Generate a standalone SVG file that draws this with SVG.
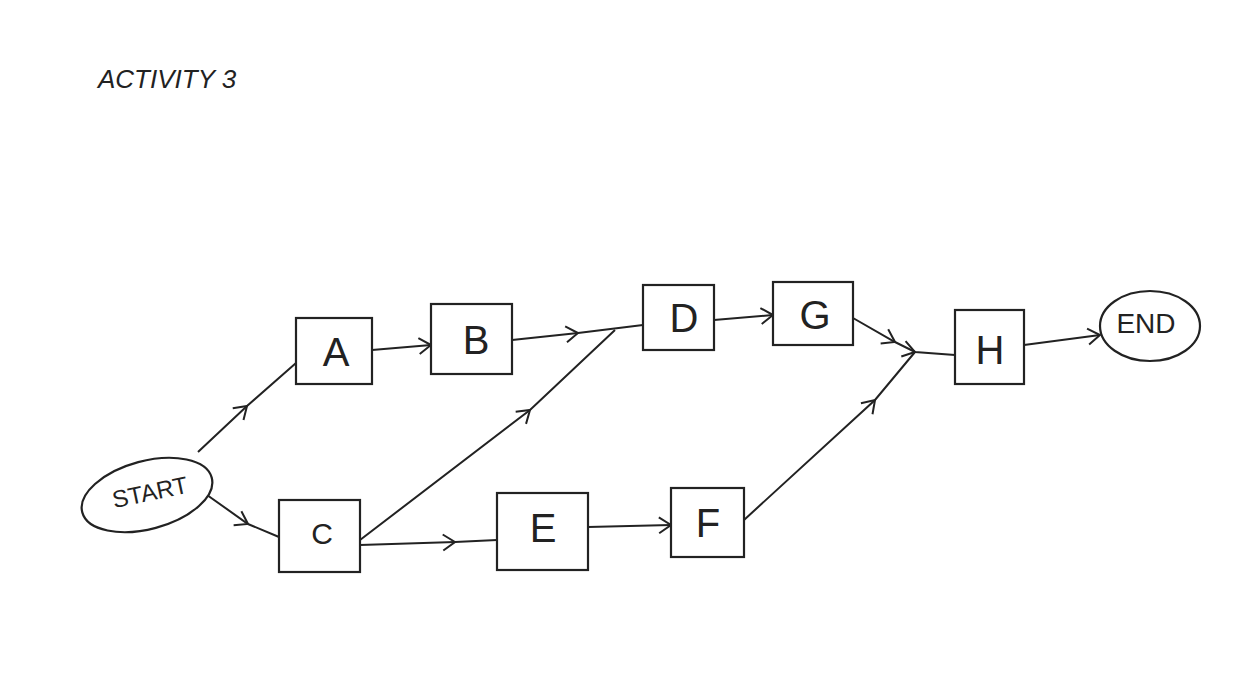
<svg xmlns="http://www.w3.org/2000/svg" width="1242" height="682" viewBox="0 0 1242 682">
<style>
.box{fill:#fff;stroke:#222;stroke-width:2.2}
.lbl{font-family:"Liberation Sans",sans-serif;font-size:40px;fill:#222;text-anchor:middle;dominant-baseline:central}
.sm{font-family:"Liberation Sans",sans-serif;font-size:24px;fill:#222;text-anchor:middle;dominant-baseline:central}
.c{fill:none;stroke:#222;stroke-width:2}
</style>
<defs>
<marker id="ch" viewBox="0 0 20 20" refX="14" refY="10" markerWidth="20" markerHeight="20" markerUnits="userSpaceOnUse" orient="auto">
<path d="M2,2 L14,10 L2,18" fill="none" stroke="#222" stroke-width="2"/>
</marker>
</defs>
<rect width="1242" height="682" fill="#fff"/>
<text x="98" y="88" font-family="Liberation Sans,sans-serif" font-size="26" fill="#222" font-style="italic">ACTIVITY 3</text>
<g id="connectors">
<path class="c" d="M198,452 L247,406 L296,363" marker-mid="url(#ch)"/>
<path class="c" d="M200,490 L248,524 L279,537" marker-mid="url(#ch)"/>
<path class="c" d="M372,350 L431,345" marker-end="url(#ch)"/>
<path class="c" d="M512,340 L578,333 L643,325" marker-mid="url(#ch)"/>
<path class="c" d="M360,540 L530,410 L615,330" marker-mid="url(#ch)"/>
<path class="c" d="M360,545 L455,542 L497,540" marker-mid="url(#ch)"/>
<path class="c" d="M588,527 L671,525" marker-end="url(#ch)"/>
<path class="c" d="M714,320 L773,315" marker-end="url(#ch)"/>
<path class="c" d="M853,318 L895,342 L915,352 L955,355" marker-mid="url(#ch)"/>
<path class="c" d="M744,520 L875,400 L915,352" marker-mid="url(#ch)"/>
<path class="c" d="M1024,345 L1100,335" marker-end="url(#ch)"/>
</g>
<g id="start"><ellipse cx="147" cy="495" rx="67" ry="34" transform="rotate(-15 147 495)" class="box"/><text x="150" y="492" class="sm" transform="rotate(-12 150 492)">START</text></g>
<g id="A"><rect x="296" y="318" width="76" height="66" class="box"/><text x="336" y="352" class="lbl">A</text></g>
<g id="B"><rect x="431" y="304" width="81" height="70" class="box"/><text x="476" y="340" class="lbl">B</text></g>
<g id="C"><rect x="279" y="500" width="81" height="72" class="box"/><text x="322" y="533" class="sm" style="font-size:30px">C</text></g>
<g id="D"><rect x="643" y="285" width="71" height="65" class="box"/><text x="684" y="318" class="lbl">D</text></g>
<g id="G"><rect x="773" y="282" width="80" height="63" class="box"/><text x="815" y="315" class="lbl">G</text></g>
<g id="E"><rect x="497" y="493" width="91" height="77" class="box"/><text x="543" y="528" class="lbl">E</text></g>
<g id="F"><rect x="671" y="488" width="73" height="69" class="box"/><text x="708" y="523" class="lbl">F</text></g>
<g id="H"><rect x="955" y="310" width="69" height="74" class="box"/><text x="990" y="350" class="lbl">H</text></g>
<g id="end"><ellipse cx="1150" cy="326" rx="50" ry="35" class="box"/><text x="1146" y="323" class="sm" style="font-size:28px">END</text></g>
</svg>
